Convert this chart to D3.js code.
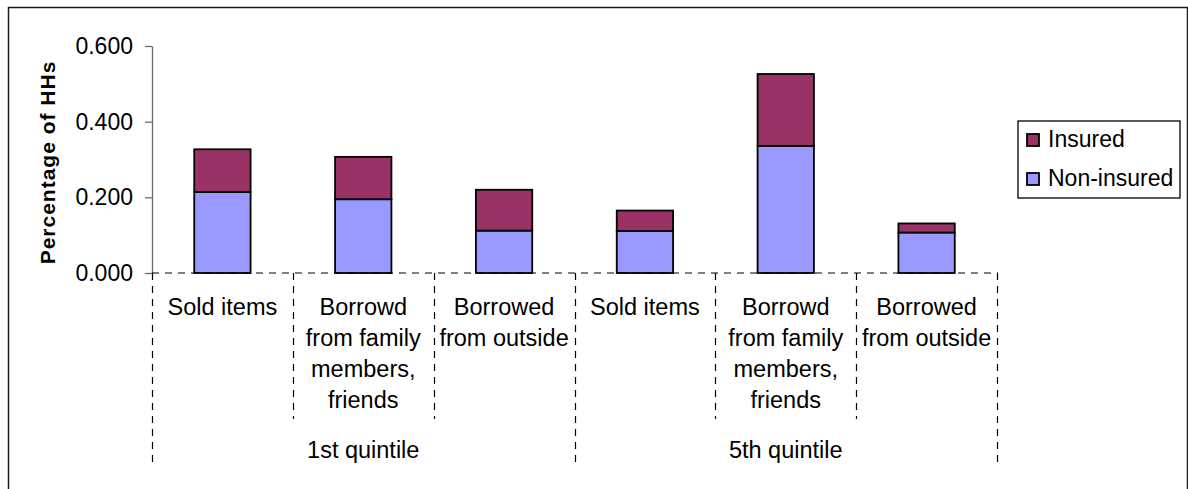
<!DOCTYPE html>
<html>
<head>
<meta charset="utf-8">
<script src="https://cdn.jsdelivr.net/npm/d3@7"></script>
<style>
  html, body { margin: 0; padding: 0; background: #fff; }
  svg { display: block; font-family: "Liberation Sans", Arial, Helvetica, sans-serif; }
</style>
</head>
<body>
<svg id="chart" width="1188" height="489"></svg>
<script>
// ---- data ----
const quintiles = ["1st quintile", "5th quintile"];
const categoryLabels = [
  ["Sold items"],
  ["Borrowd", "from family", "members,", "friends"],
  ["Borrowed", "from outside"]
];
const seriesNames = ["Insured", "Non-insured"];
const nonInsured = [0.214, 0.195, 0.112, 0.111, 0.336, 0.107];
const insured    = [0.113, 0.112, 0.108, 0.054, 0.190, 0.024];
const yTicks = [0, 0.2, 0.4, 0.6];
const colors = { "Insured": "#993366", "Non-insured": "#9999FF" };

// ---- build rows ----
const rows = [];
quintiles.forEach((q, qi) => {
  categoryLabels.forEach((lab, ci) => {
    const i = qi * categoryLabels.length + ci;
    rows.push({ key: q + "|" + ci, quintile: q, label: lab,
      "Non-insured": nonInsured[i], "Insured": insured[i] });
  });
});

const svg = d3.select("#chart");
const pLeft = 152, pRight = 997, pTop = 46, pBase = 273;

// outer frame
svg.append("path")
  .attr("d", "M8.5,500 L8.5,7.5 L1187.5,7.5 L1187.5,500")
  .attr("fill", "none").attr("stroke", "#1a1a1a").attr("stroke-width", 1.5);

const x = d3.scaleBand().domain(rows.map(r => r.key))
  .range([pLeft, pRight]).paddingInner(0.6).paddingOuter(0.3);
const y = d3.scaleLinear().domain([0, 0.6]).range([pBase, pTop]);

// stacked bars
const stack = d3.stack().keys(["Non-insured", "Insured"]);
const layers = stack(rows);
svg.append("g").selectAll("g").data(layers).join("g")
  .attr("fill", d => colors[d.key])
  .selectAll("rect").data(d => d).join("rect")
  .attr("x", d => x(d.data.key))
  .attr("width", x.bandwidth())
  .attr("y", d => y(d[1]))
  .attr("height", d => y(d[0]) - y(d[1]))
  .attr("stroke", "#000").attr("stroke-width", 1.8);

// y axis
const yAxis = d3.axisLeft(y).tickValues(yTicks).tickFormat(d3.format(".3f"))
  .tickSize(7).tickSizeOuter(0).tickPadding(12);
const ga = svg.append("g").attr("transform", `translate(${pLeft},0)`).call(yAxis);
ga.select(".domain").attr("stroke", "#6b6b6b").attr("stroke-width", 1.3);
ga.selectAll(".tick line").attr("stroke", "#6b6b6b").attr("stroke-width", 1.3);
ga.selectAll(".tick text").attr("font-size", 23).attr("fill", "#000")
  .attr("font-family", "Liberation Sans, Arial, sans-serif");

// dashed category axis
const dash = "7,6";
svg.append("line").attr("x1", pLeft).attr("x2", pRight + 1)
  .attr("y1", pBase).attr("y2", pBase)
  .attr("stroke", "#000").attr("stroke-width", 1.2).attr("stroke-dasharray", dash);

const step = x.step();
const n = rows.length;
const perQ = categoryLabels.length;
for (let i = 0; i <= n; i++) {
  const xx = Math.round(pLeft + i * step) + 0.5;
  const long = i % perQ === 0;
  svg.append("line").attr("x1", xx).attr("x2", xx)
    .attr("y1", pBase).attr("y2", long ? 466 : 419)
    .attr("stroke", "#000").attr("stroke-width", 1.2).attr("stroke-dasharray", dash);
}

// category labels
const lab = svg.append("g").attr("font-size", 23.5).attr("fill", "#000").attr("text-anchor", "middle");
rows.forEach(r => {
  const cx = x(r.key) + x.bandwidth() / 2;
  const t = lab.append("text").attr("x", cx).attr("y", 315);
  r.label.forEach((line, li) => {
    t.append("tspan").attr("x", cx).attr("dy", li === 0 ? 0 : 31).text(line);
  });
});

// quintile labels
quintiles.forEach((q, qi) => {
  const k0 = rows[qi * perQ].key, k1 = rows[qi * perQ + perQ - 1].key;
  const cx = (x(k0) + x(k1) + x.bandwidth()) / 2;
  lab.append("text").attr("x", cx).attr("y", 458).text(q);
});

// y title
svg.append("text")
  .attr("transform", "translate(55,162.5) rotate(-90)")
  .attr("text-anchor", "middle").attr("font-size", 21).attr("font-weight", "bold")
  .attr("letter-spacing", 1).text("Percentage of HHs");

// legend
const lg = svg.append("g");
lg.append("rect").attr("x", 1018).attr("y", 121).attr("width", 162).attr("height", 77)
  .attr("fill", "#fff").attr("stroke", "#000").attr("stroke-width", 1.3);
seriesNames.forEach((s, i) => {
  const yy = 134 + i * 39;
  lg.append("rect").attr("x", 1027).attr("y", yy).attr("width", 12).attr("height", 12)
    .attr("fill", colors[s]).attr("stroke", "#000").attr("stroke-width", 1.8);
  lg.append("text").attr("x", 1048).attr("y", yy + 13).attr("font-size", 23).text(s);
});
</script>
</body>
</html>
